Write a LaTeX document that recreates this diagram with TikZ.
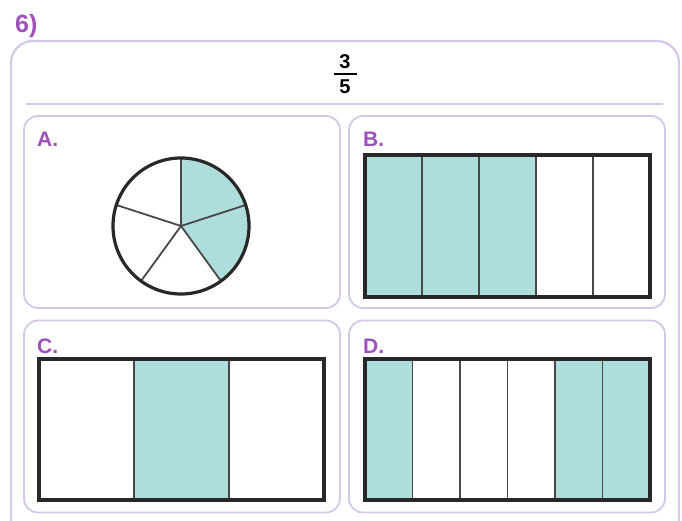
\documentclass[tikz,border=0pt]{standalone}
\usepackage{fontspec}
\setmainfont{Liberation Sans}
\usepackage{xcolor}
\usepackage{tikz}
\usetikzlibrary{positioning}
\definecolor{lilac}{RGB}{212, 199, 232}
\definecolor{plum}{RGB}{156, 82, 186}
\definecolor{mint}{RGB}{174, 222, 219}
\definecolor{ink}{RGB}{40, 40, 40}
\definecolor{divider}{RGB}{72, 72, 72}

\begin{document}
\begin{tikzpicture}[x=1pt, y=-1pt,
    panel/.style={draw=lilac, line width=1.8pt, rounded corners=14pt, minimum width=316pt, minimum height=192pt, inner sep=0pt},
    letter/.style={font=\fontsize{21}{21}\selectfont\bfseries, text=plum, anchor=base west, inner sep=0pt},
    digit/.style={font=\fontsize{20}{20}\selectfont\bfseries, anchor=base, inner sep=0pt},
    strip/.style={draw=divider, line width=1.8pt},
    frame/.style={draw=ink, line width=3.2pt}]
    \useasboundingbox (0,0) rectangle (682,521);
    \clip (0,0) rectangle (682,521);

    % question number and outer card
    \node[font=\fontsize{25}{25}\selectfont\bfseries, text=plum, anchor=base west, inner sep=0pt] (qnum) at (15,33) {6)};
    \draw[draw=lilac, line width=2.2pt, rounded corners=22pt] (11,41) rectangle (679,545);

    % the fraction
    \node[digit] (num) at (345,68.3) {3};
    \node[inner sep=0pt] (bar) at (345,74.3) {\rule{23pt}{2.4pt}};
    \node[digit] (den) at (345,94) {5};
    \draw[draw=lilac, line width=1.8pt] (26,104) -- (663,104);

    % answer panels
    \node[panel] (pA) at (182,212) {};
    \node[panel] (pB) at (507,212) {};
    \node[panel] (pC) at (182,416.5) {};
    \node[panel] (pD) at (507,416.5) {};
    \node[letter] (lA) at (37,147) {A.};
    \node[letter] (lB) at (363,147) {B.};
    \node[letter] (lC) at (37,353) {C.};
    \node[letter] (lD) at (363,353) {D.};

    % A: circle in fifths
    \coordinate (pc) at (181,226);
    \fill[mint] (pc) -- ++(-90:68) arc[start angle=-90, end angle=54, radius=68] -- cycle;
    \foreach \a in {-90,-18,54,126,198}
        \draw[strip] (pc) -- ++(\a:68);
    \draw[frame] (pc) circle[radius=68];

    % B: fifths, three shaded
    \foreach \i in {0,1,2}
        \fill[mint] ({365+57*\i},155) rectangle ++(57,142);
    \foreach \i in {1,...,4}
        \draw[strip] ({365+57*\i},155) -- ++(0,142);
    \draw[frame] (365,155) rectangle (650,297);

    % C: thirds, middle shaded
    \fill[mint] (134,359) rectangle (229,500);
    \foreach \i in {1,2}
        \draw[strip] ({39+95*\i},359) -- ++(0,141);
    \draw[frame] (39,359) rectangle (324,500);

    % D: sixths, three shaded
    \foreach \i in {0,4,5}
        \fill[mint] ({365+47.5*\i},359) rectangle ++(47.5,141);
    \foreach \i in {1,...,5}
        \draw[strip] ({365+47.5*\i},359) -- ++(0,141);
    \draw[frame] (365,359) rectangle (650,500);
\end{tikzpicture}
\end{document}
